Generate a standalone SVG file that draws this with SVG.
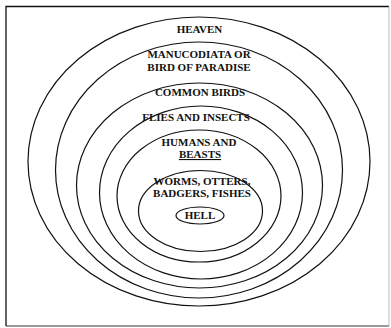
<svg xmlns="http://www.w3.org/2000/svg" width="391" height="328" viewBox="0 0 391 328">
<style>
.ring{fill:none;stroke:#111;stroke-width:1.2}
.lbl{font-family:"Liberation Serif","Times New Roman",serif;font-weight:bold;font-size:11px;fill:#111;text-anchor:middle}
</style>
<rect x="0" y="0" width="391" height="328" fill="#fff"/>
<g id="frame">
<path d="M6,326 L6,6.5 L389,6.5" fill="none" stroke="#111" stroke-width="1.3"/>
<path d="M6,326 L389,326" fill="none" stroke="#333" stroke-width="1"/>
<path d="M389,6.5 L389,326" fill="none" stroke="#bbb" stroke-width="1"/>
</g>
<g id="connectors"></g>
<g id="heaven">
<ellipse class="ring" cx="199" cy="161.5" rx="171" ry="144.5"/>
<text class="lbl" x="199.5" y="33">HEAVEN</text>
</g>
<g id="manucodiata">
<ellipse class="ring" cx="199" cy="170" rx="143.5" ry="128"/>
<text class="lbl" x="199" y="57.5">MANUCODIATA OR</text>
<text class="lbl" x="199" y="71">BIRD OF PARADISE</text>
</g>
<g id="common-birds">
<ellipse class="ring" cx="199.5" cy="185.5" rx="123" ry="102.5"/>
<text class="lbl" x="200" y="96">COMMON BIRDS</text>
</g>
<g id="flies">
<ellipse class="ring" cx="201" cy="192.5" rx="101.5" ry="86.5"/>
<text class="lbl" x="196" y="121">FLIES AND INSECTS</text>
</g>
<g id="humans">
<ellipse class="ring" cx="199" cy="196" rx="82" ry="66"/>
<text class="lbl" x="199" y="146">HUMANS AND</text>
<text class="lbl" x="200" y="158" text-decoration="underline">BEASTS</text>
</g>
<g id="worms">
<ellipse class="ring" cx="200.5" cy="211" rx="62" ry="40.5"/>
<text class="lbl" x="202" y="185">WORMS, OTTERS,</text>
<text class="lbl" x="202" y="197">BADGERS, FISHES</text>
</g>
<g id="hell">
<ellipse class="ring" cx="200" cy="215.5" rx="24" ry="8.5"/>
<text class="lbl" x="200" y="219">HELL</text>
</g>
</svg>
